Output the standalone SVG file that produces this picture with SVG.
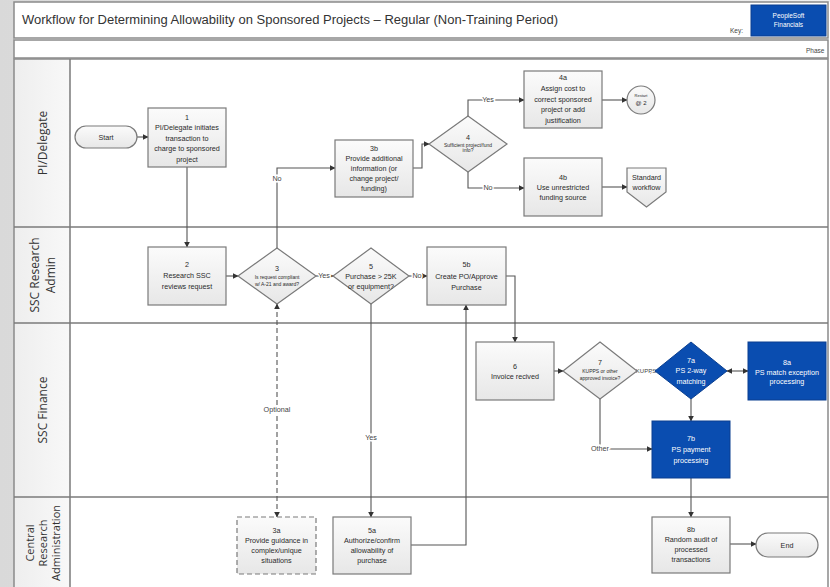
<svg xmlns="http://www.w3.org/2000/svg" width="830" height="587" viewBox="0 0 830 587">
<defs>
<linearGradient id="bg" x1="0" y1="0" x2="1" y2="0">
<stop offset="0" stop-color="#d9d9d9"/><stop offset="1" stop-color="#f0f0f0"/>
</linearGradient>
<linearGradient id="box" x1="0" y1="0" x2="0" y2="1">
<stop offset="0" stop-color="#fbfbfb"/><stop offset="1" stop-color="#e7e7e7"/>
</linearGradient>
<linearGradient id="hdr" x1="0" y1="0" x2="0" y2="1">
<stop offset="0" stop-color="#ffffff"/><stop offset="1" stop-color="#ececec"/>
</linearGradient>
<marker id="ah" viewBox="0 0 10 10" refX="9" refY="5" markerWidth="6" markerHeight="6" orient="auto-start-reverse" markerUnits="userSpaceOnUse">
<path d="M0,0 L10,5 L0,10 Z" fill="#333"/>
</marker>
<style>
.frame{fill:none;stroke:#8a8a8a;stroke-width:1.5}
.lane{stroke:#7a7a7a;stroke-width:1.5;fill:none}
.proc{fill:url(#box);stroke:#7a7a7a;stroke-width:1.2}
.ps{fill:#0a4db0;stroke:#0a3f90;stroke-width:1}
.c{fill:none;stroke:#555;stroke-width:1.1;marker-end:url(#ah)}
.t{font-family:"Liberation Sans",Arial,sans-serif;font-size:7.2px;fill:#2a2a2a;text-anchor:middle}
.tw{font-family:"Liberation Sans",Arial,sans-serif;font-size:7.2px;fill:#fff;text-anchor:middle}
.ts{font-family:"Liberation Sans",Arial,sans-serif;font-size:5px;fill:#2a2a2a;text-anchor:middle}
.lbl{font-family:"Liberation Sans",Arial,sans-serif;font-size:7.2px;fill:#444;text-anchor:middle;paint-order:stroke;stroke:#fff;stroke-width:3px}
.lane-t{font-family:"Open Sans","Liberation Sans",sans-serif;font-size:12px;fill:#333;text-anchor:middle;dominant-baseline:central}
</style>
</defs>
<rect x="0" y="0" width="830" height="587" fill="url(#bg)"/>
<rect x="14" y="2" width="816" height="585" fill="#ffffff"/>
<!-- header -->
<rect x="14" y="2" width="814" height="36" fill="url(#hdr)" class="frame"/>
<rect x="14" y="40" width="814" height="18" fill="url(#hdr)" class="frame"/>
<text x="22" y="24" font-family="Liberation Sans,Arial,sans-serif" font-size="12" fill="#333" textLength="536" lengthAdjust="spacingAndGlyphs">Workflow for Determining Allowability on Sponsored Projects – Regular (Non-Training Period)</text>
<text x="730" y="33" font-family="Liberation Sans,Arial,sans-serif" font-size="6.5" fill="#444">Key:</text>
<rect x="751" y="5" width="75" height="31" class="ps"/>
<text x="788.5" y="18" class="tw" style="font-size:6.5px">PeopleSoft</text>
<text x="788.5" y="27" class="tw" style="font-size:6.5px">Financials</text>
<text x="806" y="53" font-family="Liberation Sans,Arial,sans-serif" font-size="6.5" fill="#444">Phase</text>
<!-- lanes -->
<g id="lanes">
<rect x="14" y="59" width="56" height="528" fill="url(#bg)" opacity="0.45"/>
<rect x="14" y="59" width="814" height="530" class="frame"/>
<line x1="70" y1="59" x2="70" y2="587" class="lane"/>
<line x1="14" y1="227" x2="828" y2="227" class="lane"/>
<line x1="14" y1="323" x2="828" y2="323" class="lane"/>
<line x1="14" y1="497" x2="828" y2="497" class="lane"/>
<text class="lane-t" transform="translate(42,143) rotate(-90)">PI/Delegate</text>
<text class="lane-t" transform="translate(34,275) rotate(-90)">SSC Research</text>
<text class="lane-t" transform="translate(50,275) rotate(-90)">Admin</text>
<text class="lane-t" transform="translate(42,410) rotate(-90)">SSC Finance</text>
<text class="lane-t" style="font-size:11px" transform="translate(29,543) rotate(-90)">Central</text>
<text class="lane-t" style="font-size:11px" transform="translate(42,543) rotate(-90)">Research</text>
<text class="lane-t" style="font-size:11px" transform="translate(55,543) rotate(-90)">Administration</text>
</g>
<!-- connectors -->
<g id="connectors">
<path class="c" d="M137,137 H148"/>
<path class="c" d="M187,167 V247"/>
<path class="c" d="M226,276 H238"/>
<path class="c" d="M277,248 V168 H335"/>
<path class="c" d="M413,168 H422 V144 H429"/>
<path class="c" d="M468,116 V100 H524"/>
<path class="c" d="M468,172 V188 H524"/>
<path class="c" d="M602,100 H627"/>
<path class="c" d="M602,187 H627"/>
<path class="c" d="M316,276 H333"/>
<path class="c" d="M409,276 H427"/>
<path class="c" d="M506,276 H515 V342"/>
<path class="c" d="M554,371 H563"/>
<path class="c" d="M637,371 H655"/>
<path class="c" d="M727,371 H748" style="marker-start:url(#ah)"/>
<path class="c" d="M691,399 V421"/>
<path class="c" d="M600,399 V449 H652"/>
<path class="c" d="M691,478 V517"/>
<path class="c" d="M730,544 H756"/>
<path class="c" d="M277,304 V517" style="stroke-dasharray:5,3;marker-start:url(#ah)"/>
<path class="c" d="M371,304 V517"/>
<path class="c" d="M411,545 H466 V305"/>
<text x="277" y="181" class="lbl">No</text>
<text x="488" y="102" class="lbl">Yes</text>
<text x="488" y="190" class="lbl">No</text>
<text x="324" y="278" class="lbl">Yes</text>
<text x="417" y="278" class="lbl">No</text>
<text x="646" y="373" class="lbl" style="font-size:6px;stroke-width:2px">KUPPS</text>
<text x="277" y="412" class="lbl">Optional</text>
<text x="371" y="440" class="lbl">Yes</text>
<text x="600" y="451" class="lbl">Other</text>
</g>
<!-- nodes -->
<g id="start">
<rect x="75" y="126" width="62" height="22" rx="11" class="proc"/>
<text x="106" y="139.5" class="t">Start</text>
</g>
<g id="n1">
<rect x="148" y="108" width="78" height="59" class="proc"/>
<text x="187" y="119.5" class="t">1</text>
<text x="187" y="130" class="t">PI/Delegate initiates</text>
<text x="187" y="140.5" class="t">transaction to</text>
<text x="187" y="151" class="t">charge to sponsored</text>
<text x="187" y="161.5" class="t">project</text>
</g>
<g id="n2">
<rect x="148" y="247" width="78" height="58" class="proc"/>
<text x="187" y="267" class="t">2</text>
<text x="187" y="278" class="t">Research SSC</text>
<text x="187" y="289" class="t">reviews request</text>
</g>
<g id="d3">
<path d="M277,248 L316,276 L277,304 L238,276 Z" class="proc"/>
<text x="277" y="271" class="t">3</text>
<text x="277" y="278.5" class="ts">Is request compliant</text>
<text x="277" y="285.5" class="ts">w/ A-21 and award?</text>
</g>
<g id="n3b">
<rect x="335" y="140" width="78" height="57" class="proc"/>
<text x="374" y="150.5" class="t">3b</text>
<text x="374" y="160.5" class="t">Provide additional</text>
<text x="374" y="170.5" class="t">information (or</text>
<text x="374" y="180.5" class="t">change project/</text>
<text x="374" y="190.5" class="t">funding)</text>
</g>
<g id="d4">
<path d="M468,116 L507,144 L468,172 L429,144 Z" class="proc"/>
<text x="468" y="140" class="t">4</text>
<text x="468" y="146.5" class="ts">Sufficient project/fund</text>
<text x="468" y="152" class="ts">info?</text>
</g>
<g id="n4a">
<rect x="524" y="71" width="78" height="57" class="proc"/>
<text x="563" y="80" class="t">4a</text>
<text x="563" y="91" class="t">Assign cost to</text>
<text x="563" y="101.5" class="t">correct sponsored</text>
<text x="563" y="112" class="t">project or add</text>
<text x="563" y="122.5" class="t">justification</text>
</g>
<g id="restart">
<circle cx="641" cy="100" r="14" class="proc"/>
<text x="641" y="97" class="ts" style="font-size:4px">Restart</text>
<text x="641" y="105" class="t" style="font-size:6px">@ 2</text>
</g>
<g id="n4b">
<rect x="524" y="158" width="78" height="58" class="proc"/>
<text x="563" y="179.5" class="t">4b</text>
<text x="563" y="189.5" class="t">Use unrestricted</text>
<text x="563" y="199.5" class="t">funding source</text>
</g>
<g id="standard">
<path d="M627,168 H666 V192 L646.5,207 L627,192 Z" class="proc"/>
<text x="646.5" y="179.5" class="t">Standard</text>
<text x="646.5" y="190" class="t">workflow</text>
</g>
<g id="d5">
<path d="M371,248 L409,276 L371,304 L333,276 Z" class="proc"/>
<text x="371" y="268.5" class="t">5</text>
<text x="371" y="278.5" class="t">Purchase &gt; 25K</text>
<text x="371" y="288.5" class="t">or equipment?</text>
</g>
<g id="n5b">
<rect x="427" y="247" width="79" height="58" class="proc"/>
<text x="466.5" y="266.5" class="t">5b</text>
<text x="466.5" y="278.5" class="t">Create PO/Approve</text>
<text x="466.5" y="289.5" class="t">Purchase</text>
</g>
<g id="n6">
<rect x="476" y="342" width="78" height="58" class="proc"/>
<text x="515" y="368.5" class="t">6</text>
<text x="515" y="378.5" class="t">Invoice recived</text>
</g>
<g id="d7">
<path d="M600,342 L637,371 L600,399 L563,371 Z" class="proc"/>
<text x="600" y="365" class="t">7</text>
<text x="600" y="373" class="ts">KUPPS or other</text>
<text x="600" y="380" class="ts">approved invoice?</text>
</g>
<g id="d7a">
<path d="M691,342 L727,371 L691,399 L655,371 Z" class="ps"/>
<text x="691" y="362.5" class="tw">7a</text>
<text x="691" y="373" class="tw">PS 2-way</text>
<text x="691" y="383.5" class="tw">matching</text>
</g>
<g id="n8a">
<rect x="748" y="342" width="78" height="58" class="ps"/>
<text x="787" y="364.5" class="tw">8a</text>
<text x="787" y="374.5" class="tw">PS match exception</text>
<text x="787" y="384" class="tw">processing</text>
</g>
<g id="n7b">
<rect x="652" y="421" width="78" height="57" class="ps"/>
<text x="691" y="440.5" class="tw">7b</text>
<text x="691" y="451.5" class="tw">PS payment</text>
<text x="691" y="462.5" class="tw">processing</text>
</g>
<g id="n8b">
<rect x="652" y="517" width="78" height="56" class="proc"/>
<text x="691" y="531.5" class="t">8b</text>
<text x="691" y="541.5" class="t">Random audit of</text>
<text x="691" y="551.5" class="t">processed</text>
<text x="691" y="561.5" class="t">transactions</text>
</g>
<g id="end">
<rect x="756" y="533" width="62" height="24" rx="12" class="proc"/>
<text x="787" y="547.5" class="t">End</text>
</g>
<g id="n3a">
<rect x="237" y="517" width="79" height="57" class="proc" style="stroke-dasharray:5,3"/>
<text x="276.5" y="532.5" class="t">3a</text>
<text x="276.5" y="542.5" class="t">Provide guidance in</text>
<text x="276.5" y="552.5" class="t">complex/unique</text>
<text x="276.5" y="562.5" class="t">situations</text>
</g>
<g id="n5a">
<rect x="333" y="517" width="78" height="57" class="proc"/>
<text x="372" y="532.5" class="t">5a</text>
<text x="372" y="542.5" class="t">Authorize/confirm</text>
<text x="372" y="552.5" class="t">allowability of</text>
<text x="372" y="562.5" class="t">purchase</text>
</g>
</svg>
